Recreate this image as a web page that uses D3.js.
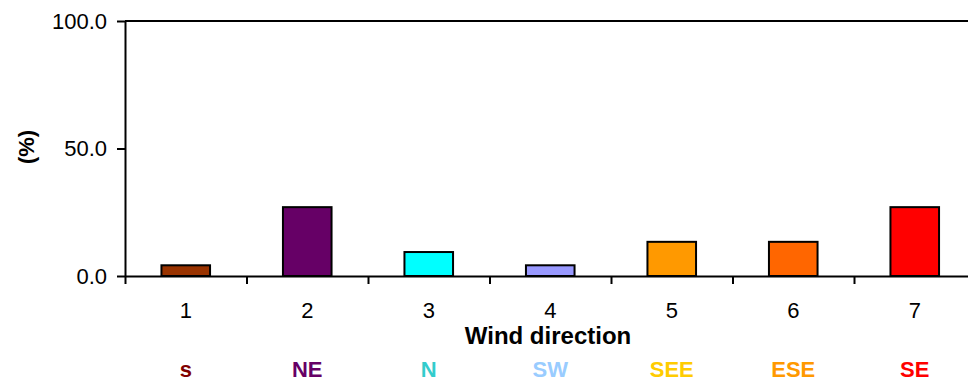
<!DOCTYPE html>
<html>
<head>
<meta charset="utf-8">
<script src="https://cdn.jsdelivr.net/npm/d3@7"></script>
<style>
  html, body { margin: 0; padding: 0; background: #fff; }
  svg { display: block; font-family: "Liberation Sans", Arial, sans-serif; }
</style>
</head>
<body>
<svg id="chart" width="968" height="383"></svg>
<script>
// Wind direction frequency (%)
const categories = ["1", "2", "3", "4", "5", "6", "7"];
const values = [4.2, 27.0, 9.4, 4.2, 13.4, 13.4, 27.0];
const directions = ["s", "NE", "N", "SW", "SEE", "ESE", "SE"];
const barColors = ["#993300", "#660066", "#00FFFF", "#9999FF", "#FF9900", "#FF6600", "#FF0000"];
const labelColors = ["#800000", "#660066", "#33CCCC", "#99CCFF", "#FFCC00", "#FF9900", "#FF0000"];
const yTicks = [0, 50, 100];

const svg = d3.select("#chart");
const plotLeft = 125, plotTop = 21, plotBottom = 276, step = 121.5;
const plotRight = plotLeft + step * categories.length;

const x = d3.scaleBand().domain(categories).range([plotLeft, plotRight]).padding(0);
const xEdge = d3.scaleLinear().domain([0, categories.length]).range([plotLeft, plotRight]);
const y = d3.scaleLinear().domain([0, 100]).range([plotBottom, plotTop]);

// top frame line
svg.append("line")
  .attr("x1", plotLeft).attr("x2", 968)
  .attr("y1", y(100)).attr("y2", y(100))
  .attr("stroke", "#000").attr("stroke-width", 2);

// bars
svg.append("g").selectAll("rect")
  .data(values)
  .join("rect")
  .attr("x", (d, i) => x(categories[i]) + x.bandwidth() * 0.3)
  .attr("width", x.bandwidth() * 0.4)
  .attr("y", d => y(d))
  .attr("height", d => y(0) - y(d))
  .attr("fill", (d, i) => barColors[i])
  .attr("stroke", "#000")
  .attr("stroke-width", 2);

// y axis
const yAxis = svg.append("g")
  .attr("transform", `translate(${plotLeft},0)`)
  .call(d3.axisLeft(y).tickValues(yTicks).tickFormat(d3.format(".1f"))
    .tickSize(8).tickSizeOuter(0).tickPadding(10));
yAxis.select(".domain").attr("stroke", "#000").attr("stroke-width", 2);
yAxis.selectAll(".tick line").attr("stroke", "#000").attr("stroke-width", 2);
yAxis.selectAll(".tick text").attr("font-size", 22).attr("fill", "#000")
  .attr("font-family", "Liberation Sans, Arial, sans-serif");

// x axis: boundary ticks
const xAxis = svg.append("g")
  .attr("transform", `translate(0,${plotBottom})`)
  .call(d3.axisBottom(xEdge).tickValues(d3.range(0, categories.length + 1))
    .tickFormat("").tickSize(8).tickSizeOuter(0));
xAxis.select(".domain").attr("stroke", "#000").attr("stroke-width", 2)
  .attr("d", `M${plotLeft},0.5H968`);
xAxis.selectAll(".tick line").attr("stroke", "#000").attr("stroke-width", 2);

// x axis: category labels
const xLabels = svg.append("g")
  .attr("transform", `translate(0,${plotBottom})`)
  .call(d3.axisBottom(x).tickSize(0).tickPadding(26));
xLabels.select(".domain").remove();
xLabels.selectAll(".tick text").attr("font-size", 22).attr("fill", "#000")
  .attr("font-family", "Liberation Sans, Arial, sans-serif");

// axis titles
svg.append("text")
  .attr("transform", `translate(28,147) rotate(-90)`)
  .attr("text-anchor", "middle").attr("dominant-baseline", "middle")
  .attr("font-size", 22).attr("font-weight", "bold")
  .text("(%)");

svg.append("text")
  .attr("x", 548).attr("y", 338)
  .attr("text-anchor", "middle").attr("dominant-baseline", "middle")
  .attr("font-size", 24).attr("font-weight", "bold")
  .text("Wind direction");

// direction names under each category
svg.append("g").selectAll("text")
  .data(directions)
  .join("text")
  .attr("x", (d, i) => x(categories[i]) + x.bandwidth() / 2)
  .attr("y", 371)
  .attr("text-anchor", "middle").attr("dominant-baseline", "middle")
  .attr("font-size", 22).attr("font-weight", "bold")
  .attr("fill", (d, i) => labelColors[i])
  .text(d => d);
</script>
</body>
</html>
